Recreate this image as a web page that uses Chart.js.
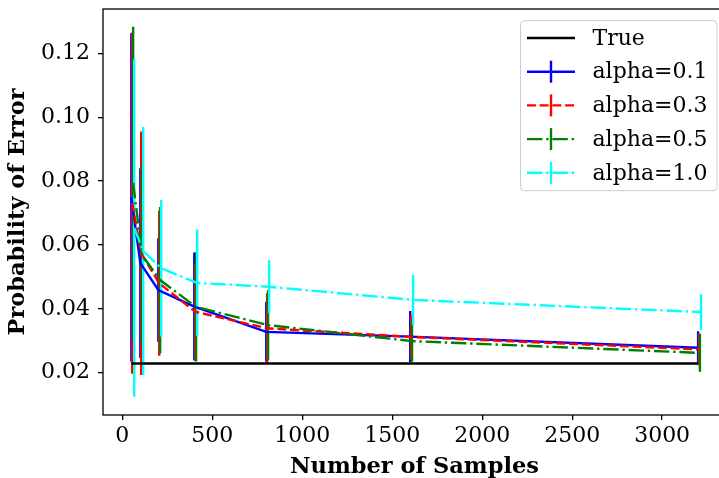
<!DOCTYPE html>
<html>
<head>
<meta charset="utf-8">
<script src="https://cdn.jsdelivr.net/npm/chart.js@4.4.0/dist/chart.umd.min.js"></script>
<style>
  html, body { margin: 0; padding: 0; background: #fff; overflow: hidden; }
  #wrap { width: 728px; height: 478px; }
</style>
</head>
<body>
<div id="wrap"><canvas id="chart" width="728" height="478"></canvas></div>
<script>
// x values (number of samples) and tick labels
const sampleSizes = [50, 100, 200, 400, 800, 1600, 3200];
const xTicks = [0, 500, 1000, 1500, 2000, 2500, 3000];
const yTicks = [0.02, 0.04, 0.06, 0.08, 0.10, 0.12];

// true error probability
const trueError = 0.0229;

// mean error and error-bar half widths
const seriesLabels = ['alpha=0.1', 'alpha=0.3', 'alpha=0.5', 'alpha=1.0'];
const xShift = [0, 5, 10, 16];   // small sideways shift per series
const mean01 = [0.0749, 0.0543, 0.0459, 0.0407, 0.0328, 0.0313, 0.0278];
const err01  = [0.0514, 0.0297, 0.0162, 0.0169, 0.0094, 0.0080, 0.0052];
const mean03 = [0.0731, 0.0574, 0.0480, 0.0391, 0.0339, 0.0312, 0.0273];
const err03  = [0.0534, 0.0381, 0.0227, 0.0151, 0.0110, 0.0069, 0.0050];
const mean05 = [0.0794, 0.0568, 0.0490, 0.0406, 0.0349, 0.0299, 0.0262];
const err05  = [0.0489, 0.0280, 0.0229, 0.0171, 0.0110, 0.0065, 0.0059];
const mean10 = [0.0653, 0.0581, 0.0527, 0.0481, 0.0469, 0.0428, 0.0390];
const err10  = [0.0528, 0.0388, 0.0214, 0.0167, 0.0083, 0.0079, 0.0056];

const means = [mean01, mean03, mean05, mean10];
const errs = [err01, err03, err05, err10];
const colors = ['#0000ff', '#ff0000', '#008000', '#00ffff'];
const dashes = [[], [8.9, 3.8], [15.4, 3.8, 2.4, 3.8], [15.4, 3.8, 2.4, 3.8]];

const LW = 2.4;
const serif = "'DejaVu Serif', serif";

function linePoints(i) {
    return sampleSizes.map((n, j) => ({ x: n + xShift[i], y: means[i][j] }));
}

function errorPoints(i) {
    const pts = [];
    sampleSizes.forEach((n, j) => {
        const x = n + xShift[i];
        pts.push({ x: x, y: means[i][j] - errs[i][j] });
        pts.push({ x: x, y: means[i][j] + errs[i][j] });
        pts.push({ x: x, y: null });
    });
    return pts;
}

const datasets = [];
// error bars go under every line
seriesLabels.forEach((label, i) => {
    datasets.push({
        label: label + ' err',
        data: errorPoints(i),
        borderColor: colors[i],
        borderWidth: LW,
        pointRadius: 0,
        spanGaps: false,
        order: 20 - i
    });
});
datasets.push({
    label: 'True',
    data: [{ x: sampleSizes[0], y: trueError }, { x: sampleSizes[sampleSizes.length - 1], y: trueError }],
    borderColor: '#000000',
    borderWidth: LW,
    pointRadius: 0,
    order: 10
});
seriesLabels.forEach((label, i) => {
    datasets.push({
        label: label,
        data: linePoints(i),
        borderColor: colors[i],
        borderWidth: LW,
        borderDash: dashes[i],
        pointRadius: 0,
        tension: 0,
        order: 9 - i
    });
});

// matplotlib style frame round the axes
const frame = {
    id: 'frame',
    afterDatasetsDraw(chart) {
        const { ctx, chartArea: a } = chart;
        ctx.save();
        ctx.strokeStyle = '#000';
        ctx.lineWidth = 1.3;
        ctx.strokeRect(a.left, a.top, a.right - a.left, a.bottom - a.top);
        ctx.restore();
    }
};

// legend in the upper right corner, inside the axes
const legendBox = {
    id: 'legendBox',
    afterDraw(chart) {
        const { ctx, chartArea: a } = chart;
        const w = 196.5, h = 170, rowH = 33.7;
        const x0 = a.right - 9 - w, y0 = a.top + 11.7;
        ctx.save();
        ctx.beginPath();
        ctx.roundRect(x0, y0, w, h, 4);
        ctx.fillStyle = 'rgba(255,255,255,0.8)';
        ctx.fill();
        ctx.strokeStyle = '#cccccc';
        ctx.lineWidth = 1;
        ctx.stroke();

        const entries = [{ label: 'True', color: '#000', dash: [], bar: false }];
        seriesLabels.forEach((l, i) => entries.push({ label: l, color: colors[i], dash: dashes[i], bar: true }));

        ctx.font = '22px ' + serif;
        ctx.textBaseline = 'middle';
        ctx.textAlign = 'left';
        entries.forEach((e, k) => {
            const cy = y0 + 17.3 + k * rowH;
            const hx0 = x0 + 6.5, hx1 = x0 + 54.5;
            ctx.strokeStyle = e.color;
            ctx.lineWidth = LW;
            ctx.setLineDash(e.dash);
            ctx.beginPath();
            ctx.moveTo(hx0, cy);
            ctx.lineTo(hx1, cy);
            ctx.stroke();
            ctx.setLineDash([]);
            if (e.bar) {
                ctx.beginPath();
                ctx.moveTo((hx0 + hx1) / 2, cy - 11);
                ctx.lineTo((hx0 + hx1) / 2, cy + 11);
                ctx.stroke();
            }
            ctx.fillStyle = '#000';
            ctx.fillText(e.label, x0 + 72, cy + 1);
        });
        ctx.restore();
    }
};

const chart = new Chart(document.getElementById('chart'), {
    type: 'line',
    data: { datasets: datasets },
    plugins: [frame, legendBox],
    options: {
        responsive: false,
        devicePixelRatio: 1,
        animation: false,
        layout: { autoPadding: false, padding: { top: 9, right: 2, left: 0, bottom: 0 } },
        plugins: { legend: { display: false }, tooltip: { enabled: false } },
        scales: {
            x: {
                type: 'linear',
                min: -107.5,
                max: 3355,
                afterBuildTicks: s => { s.ticks = xTicks.map(v => ({ value: v })); },
                afterFit: s => { s.height = 63; s.paddingLeft = 0; s.paddingRight = 0; },
                grid: { drawOnChartArea: false, drawTicks: true, tickLength: 5, color: '#000', lineWidth: 1.3 },
                border: { display: false },
                ticks: {
                    color: '#000', font: { family: serif, size: 22 }, padding: 3, maxRotation: 0,
                    callback: v => String(v)
                },
                title: {
                    display: true, text: 'Number of Samples', color: '#000',
                    font: { family: serif, size: 22.5, weight: 'bold', lineHeight: 1 },
                    padding: { top: 0, bottom: 0 }
                }
            },
            y: {
                type: 'linear',
                min: 0.00676,
                max: 0.13387,
                afterBuildTicks: s => { s.ticks = yTicks.map(v => ({ value: v })); },
                afterFit: s => { s.width = 103; s.paddingTop = 0; s.paddingBottom = 0; },
                grid: { drawOnChartArea: false, drawTicks: true, tickLength: 5, color: '#000', lineWidth: 1.3 },
                border: { display: false },
                ticks: {
                    color: '#000', font: { family: serif, size: 22 }, padding: 8,
                    callback: v => v.toFixed(2)
                },
                title: {
                    display: true, text: 'Probability of Error', color: '#000',
                    font: { family: serif, size: 22.5, weight: 'bold', lineHeight: 1 },
                    padding: { top: 7, bottom: 0 }
                }
            }
        }
    }
});
</script>
</body>
</html>
